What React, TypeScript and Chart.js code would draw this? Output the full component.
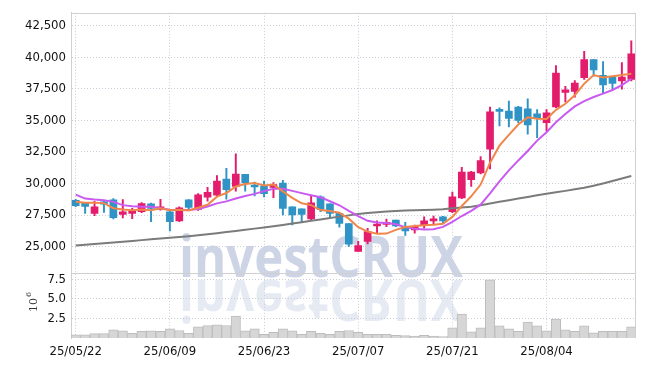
import React, { useEffect, useRef } from 'react';
import { Chart, registerables } from 'chart.js';

Chart.register(...registerables);

// ---------- data ----------
const dates = [
  '25/05/22','25/05/23','25/05/26','25/05/27','25/05/28','25/05/29','25/05/30','25/06/02','25/06/04','25/06/05',
  '25/06/09','25/06/10','25/06/11','25/06/12','25/06/13','25/06/16','25/06/17','25/06/18','25/06/19','25/06/20',
  '25/06/23','25/06/24','25/06/25','25/06/26','25/06/27','25/06/30','25/07/01','25/07/02','25/07/03','25/07/04',
  '25/07/07','25/07/08','25/07/09','25/07/10','25/07/11','25/07/14','25/07/15','25/07/16','25/07/17','25/07/18',
  '25/07/21','25/07/22','25/07/23','25/07/24','25/07/25','25/07/28','25/07/29','25/07/30','25/07/31','25/08/01',
  '25/08/04','25/08/05','25/08/06','25/08/07','25/08/08','25/08/11','25/08/12','25/08/13','25/08/14','25/08/18',
];

const opens = [
  28680,28470,27640,28550,28710,27560,27640,27770,28390,27950,
  27770,27040,28710,27950,28920,29070,30350,29780,30720,29830,
  29800,29700,30040,28160,28000,27190,28940,28390,27640,26830,
  24630,25420,26640,26770,27110,26590,26330,26720,27040,27370,
  27770,28860,30300,30850,32730,35860,35730,36050,35920,35520,
  34820,36070,37220,37300,38380,39810,38560,38430,38120,38250,
];
const highs = [
  28760,28520,28600,28630,28810,28730,28030,28500,28450,28760,
  27800,28160,28730,29200,29700,30640,31210,32350,30720,30120,
  30200,30070,30250,28160,28000,28990,29020,28390,27640,26830,
  25420,26460,27040,27190,27110,26930,26720,27370,27430,27400,
  29330,31290,30960,32130,36050,36000,36520,36120,36700,35860,
  35860,39340,37690,38160,40470,39810,39660,38430,39570,41300,
];
const lows = [
  28160,27640,27450,27710,27190,27270,27220,27690,26980,27900,
  26250,26980,27900,27870,28600,28940,28760,29390,29390,29020,
  28940,28890,27510,26720,26930,27140,27770,27240,26540,25020,
  24630,25210,26070,26590,26590,25890,26070,26460,26720,26830,
  27690,28810,29780,30770,31160,34560,34480,34820,33900,33640,
  34170,36000,36460,36830,38250,38510,37200,37480,37480,38120,
];
const closes = [
  28240,28180,28160,28370,27300,27770,27870,28420,28030,28160,
  26980,28080,28110,29100,29310,30200,29520,30750,30040,29730,
  29200,29910,28030,27510,27560,28470,27950,27640,26850,25200,
  25080,26200,26770,26930,26640,26250,26590,27040,27190,27040,
  28940,30900,30900,31820,35680,35710,35160,35000,34640,35210,
  35600,38740,37430,37950,39810,39000,37800,37930,38430,40280,
];
// volume in millions of shares
const volumes = [
  0.42,0.42,0.55,0.55,1.05,0.92,0.59,0.84,0.92,0.84,
  1.17,0.96,0.59,1.42,1.57,1.69,1.59,2.80,0.92,1.17,
  0.46,0.71,1.17,0.92,0.46,0.84,0.59,0.46,0.84,0.96,
  0.71,0.46,0.46,0.46,0.34,0.30,0.25,0.34,0.25,0.17,
  1.29,3.04,0.80,1.29,7.42,1.55,1.17,0.84,2.04,1.55,
  0.92,2.42,1.05,0.84,1.55,0.67,0.84,0.84,0.84,1.42,
];
const ma5 = [
  28550,28480,28470,28450,28050,27950,27890,27940,27880,28050,
  27890,27930,27870,28090,28320,28960,29250,29770,29960,30050,
  29850,29920,29380,28870,28440,28290,27900,27820,27690,27220,
  26540,26190,26020,26040,26330,26560,26640,26690,26740,26820,
  27360,28220,28990,29920,31650,33000,33850,34670,35240,35140,
  35120,35840,36320,36990,37910,38590,38400,38500,38600,38690,
];
const ma10 = [
  29120,28810,28730,28680,28550,28290,28210,28160,28160,28050,
  27920,27910,27910,27980,28180,28430,28590,28820,29020,29180,
  29400,29590,29580,29420,29240,29070,28910,28600,28280,27830,
  27420,27050,26920,26870,26770,26550,26420,26360,26390,26570,
  26960,27430,27840,28330,29230,30180,31040,31830,32580,33400,
  34060,34850,35500,36110,36520,36850,37120,37410,37790,38300,
];
const ma60 = [
  25100,25160,25220,25280,25340,25400,25460,25520,25580,25640,
  25700,25760,25830,25900,25980,26070,26160,26250,26340,26430,
  26520,26620,26720,26830,26940,27050,27160,27270,27380,27480,
  27580,27660,27730,27790,27830,27860,27880,27900,27930,27970,
  28050,28100,28160,28290,28420,28550,28680,28810,28940,29070,
  29200,29310,29420,29540,29660,29830,30010,30200,30400,30600,
];
const priceTicks = [25000, 27500, 30000, 32500, 35000, 37500, 40000, 42500];
const volumeTicks = [2.5, 5.0, 7.5];

// ---------- styling ----------
const FONT = "'DejaVu Sans Condensed', 'Liberation Sans Narrow', sans-serif";
const WM_FONT = "'Open Sans', 'Roboto', sans-serif";
const UP = '#e31c6c';
const DOWN = '#2f93c6';
const GRID = '#c9cdd8';
const AXIS = '#d0d0d0';

export default function App() {
  const ref = useRef<HTMLCanvasElement>(null);

  useEffect(() => {
    if (!ref.current) return;
    const candleColors = closes.map((c, i) => (c >= opens[i] ? UP : DOWN));

    const watermark = {
      id: 'watermark',
      beforeDraw(chart: any) {
        const ctx = chart.ctx as CanvasRenderingContext2D;
        const text = 'investCRUX';
        ctx.save();
        ctx.font = `bold 58px ${WM_FONT}`;
        ctx.textBaseline = 'alphabetic';
        ctx.textAlign = 'left';
        const w = ctx.measureText(text).width;
        const sx = 284 / w;
        ctx.save();
        ctx.translate(179, 277);
        ctx.scale(sx, 1);
        ctx.fillStyle = 'rgba(196,205,226,0.85)';
        ctx.fillText(text, 0, 0);
        ctx.restore();
        ctx.save();
        ctx.translate(179, 280);
        ctx.scale(sx, -1);
        ctx.fillStyle = 'rgba(210,217,234,0.55)';
        ctx.fillText(text, 0, 0);
        ctx.restore();
        ctx.restore();
      },
    };

    const frame = {
      id: 'frame',
      afterDraw(chart: any) {
        const ctx = chart.ctx as CanvasRenderingContext2D;
        const a = chart.chartArea;
        const py = chart.scales.y;
        ctx.save();
        ctx.strokeStyle = AXIS;
        ctx.lineWidth = 1;
        ctx.beginPath();
        ctx.moveTo(a.left, Math.round(a.top) + 0.5);
        ctx.lineTo(a.right, Math.round(a.top) + 0.5);
        ctx.moveTo(Math.round(a.right) - 0.5, a.top);
        ctx.lineTo(Math.round(a.right) - 0.5, a.bottom);
        ctx.moveTo(a.left, Math.round(py.bottom) + 0.5);
        ctx.lineTo(a.right, Math.round(py.bottom) + 0.5);
        ctx.stroke();
        // volume axis exponent label
        ctx.translate(37, 312);
        ctx.rotate(-Math.PI / 2);
        ctx.fillStyle = '#333';
        ctx.textBaseline = 'alphabetic';
        ctx.textAlign = 'left';
        ctx.font = "11px 'DejaVu Serif', serif";
        ctx.fillText('10', 0, 0);
        const w = ctx.measureText('10').width;
        ctx.font = "8px 'DejaVu Serif', serif";
        ctx.fillText('6', w + 1, -6);
        ctx.restore();
      },
    };

    const tickFont = { family: FONT, size: 13 };

    const chart = new Chart(ref.current, {
      type: 'bar',
      data: {
        labels: dates,
        datasets: [
          {
            type: 'line',
            label: 'MA5',
            data: ma5,
            borderColor: '#f0874a',
            borderWidth: 2,
            pointRadius: 0,
            tension: 0,
            yAxisID: 'y',
            order: 0,
          } as any,
          {
            type: 'line',
            label: 'MA10',
            data: ma10,
            borderColor: '#c95af0',
            borderWidth: 2,
            pointRadius: 0,
            tension: 0,
            yAxisID: 'y',
            order: 1,
          },
          {
            type: 'line',
            label: 'MA60',
            data: ma60,
            borderColor: '#7b7b7b',
            borderWidth: 2,
            pointRadius: 0,
            tension: 0,
            yAxisID: 'y',
            order: 2,
          },
          {
            type: 'bar',
            label: 'body',
            data: opens.map((o, i) => [o, closes[i]]),
            backgroundColor: candleColors,
            borderWidth: 0,
            barThickness: 7,
            minBarLength: 2,
            grouped: false,
            yAxisID: 'y',
            order: 3,
          },
          {
            type: 'bar',
            label: 'wick',
            data: lows.map((l, i) => [l, highs[i]]),
            backgroundColor: candleColors,
            borderWidth: 0,
            barThickness: 1.3,
            grouped: false,
            yAxisID: 'y',
            order: 4,
          },
          {
            type: 'bar',
            label: 'volume',
            data: volumes,
            backgroundColor: '#d6d6d6',
            borderColor: '#bdbdbd',
            borderWidth: 1,
            barPercentage: 1,
            categoryPercentage: 1,
            grouped: false,
            yAxisID: 'yv',
            order: 5,
          },
        ] as any,
      },
      options: {
        responsive: false,
        animation: false,
        events: [],
        layout: { padding: { top: 9, right: 9, left: 0, bottom: 0 } },
        plugins: { legend: { display: false }, tooltip: { enabled: false } },
        scales: {
          x: {
            type: 'category',
            offset: true,
            grid: { offset: false, color: GRID, drawTicks: false },
            border: { display: false, dash: [1, 2] },
            ticks: {
              autoSkip: false,
              maxRotation: 0,
              padding: 6,
              color: '#111',
              font: tickFont,
              callback: (_v: any, i: number) => (i % 10 === 0 ? dates[i] : null),
            },
            afterFit: (s: any) => { s.height = 28; },
          },
          yv: {
            type: 'linear',
            position: 'left',
            stack: 'panels',
            stackWeight: 1,
            min: 0,
            max: 8.3,
            grid: { color: GRID, drawTicks: false },
            border: { color: AXIS, dash: [1, 2] },
            afterBuildTicks: (s: any) => { s.ticks = volumeTicks.map((v) => ({ value: v })); },
            ticks: {
              autoSkip: false,
              padding: 5,
              color: '#111',
              font: tickFont,
              callback: (v: any) => Number(v).toFixed(1),
            },
            afterFit: (s: any) => { s.width = 71; },
          },
          y: {
            type: 'linear',
            position: 'left',
            stack: 'panels',
            stackWeight: 4,
            min: 22920,
            max: 43520,
            grid: { color: GRID, drawTicks: false },
            border: { color: AXIS, dash: [1, 2] },
            afterBuildTicks: (s: any) => { s.ticks = priceTicks.map((v) => ({ value: v })); },
            ticks: {
              autoSkip: false,
              padding: 5,
              color: '#111',
              font: tickFont,
              callback: (v: any) => Number(v).toLocaleString('en-US'),
            },
            afterFit: (s: any) => { s.width = 71; },
          },
        },
      } as any,
      plugins: [watermark, frame],
    });

    return () => chart.destroy();
  }, []);

  return (
    <div style={{ position: 'absolute', left: 0, top: 0, width: 645, height: 366, background: '#fff' }}>
      <canvas ref={ref} width={645} height={366} style={{ display: 'block' }} />
    </div>
  );
}
